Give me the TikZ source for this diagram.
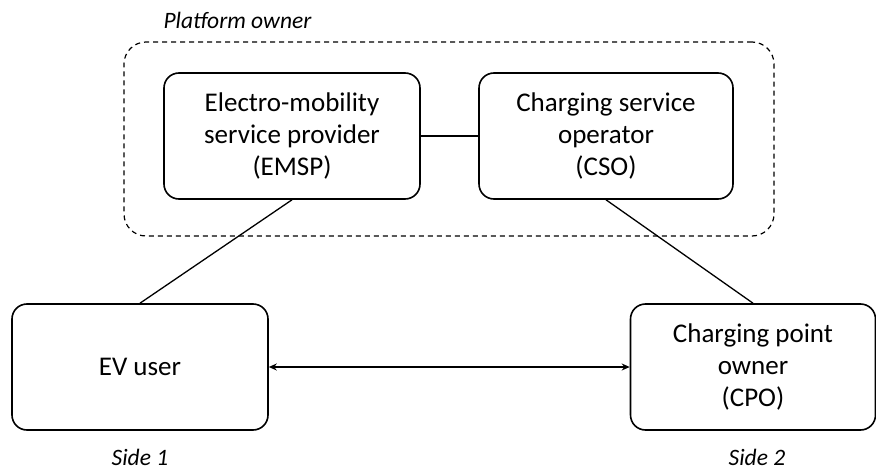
\documentclass[tikz,border=0pt]{standalone}
\usepackage{fontspec}
\setmainfont{Carlito}
\usetikzlibrary{arrows.meta}

\begin{document}
\begin{tikzpicture}[
    x=1pt, y=-1pt,
    actor/.style={rectangle, rounded corners=15pt, draw, line width=1.6pt,
                  align=center, inner sep=0pt, minimum height=126pt,
                  font=\fontsize{27}{32}\selectfont},
    sidelabel/.style={font=\fontsize{23.5}{28}\selectfont\itshape},
    link/.style={line width=1.3pt}
]
    \useasboundingbox (0,0) rectangle (876,471);

    % Platform owner group (dashed)
    \node at (449,139) [draw, rounded corners=22pt, line width=1.2pt,
                        dash pattern=on 5pt off 4pt,
                        minimum width=650pt, minimum height=194pt] (platform) {};
    \node at (160,28) [anchor=base west, sidelabel] (platlabel) {Platform owner};

    % Platform actors (top)
    \node at (292,136) [actor, minimum width=256pt] (emsp) {Electro-mobility\\service provider\\(EMSP)};
    \node at (606,136) [actor, minimum width=254pt] (cso) {Charging service\\operator\\(CSO)};
    \draw[link] (emsp.east) -- (cso.west);

    % The two sides (bottom)
    \node at (140,367) [actor, minimum width=256pt] (ev) {EV user};
    \node at (753,367) [actor, minimum width=245pt] (cpo) {Charging point\\owner\\(CPO)};
    \draw[link] (emsp.south) -- (ev.north);
    \draw[link] (cso.south) -- (cpo.north);
    \draw[link, {Stealth[length=8pt,width=7pt]}-{Stealth[length=8pt,width=7pt]}] (ev.east) -- (cpo.west);

    % Side labels
    \node at (140,465) [anchor=base, sidelabel] (side1) {Side 1};
    \node at (757,465) [anchor=base, sidelabel] (side2) {Side 2};
\end{tikzpicture}
\end{document}
